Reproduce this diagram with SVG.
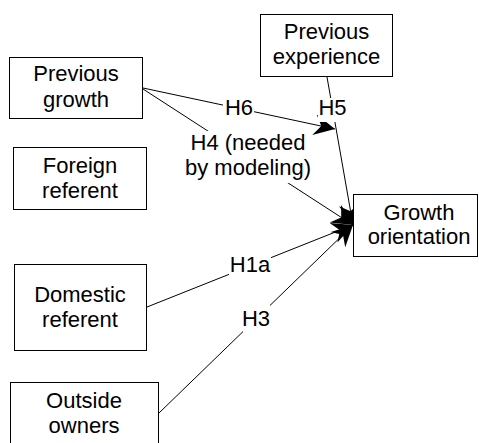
<svg xmlns="http://www.w3.org/2000/svg" width="479" height="443" viewBox="0 0 479 443">
  <style>
    .box { fill: #ffffff; stroke: #000000; stroke-width: 1; }
    .txt { font-family: "Liberation Sans", Arial, sans-serif; font-size: 22px; fill: #000000; text-anchor: middle; }
    .edge { stroke: #000000; stroke-width: 1; fill: none; marker-end: url(#arrow); }
    .lbl-bg { fill: #ffffff; stroke: none; }
  </style>
  <defs>
    <marker id="arrow" markerUnits="userSpaceOnUse" markerWidth="24" markerHeight="24" refX="21" refY="10.5" orient="auto">
      <path d="M0,0 L21,10.5 L0,21 L7,10.5 Z" fill="#000000"/>
    </marker>
  </defs>

  <rect width="479" height="443" fill="#ffffff"/>

  <!-- connectors with their hypothesis labels -->
  <g id="connectors">
    <line class="edge" x1="143" y1="88" x2="335" y2="129"/>
    <line class="edge" x1="143" y1="89" x2="353" y2="225"/>
    <line class="edge" x1="327" y1="77" x2="353" y2="225"/>
    <line class="edge" x1="147" y1="307" x2="353" y2="225"/>
    <line class="edge" x1="159" y1="413" x2="353" y2="225"/>

    <rect class="lbl-bg" x="223" y="97" width="31" height="22"/>
    <text class="txt" x="239" y="115">H6</text>

    <rect class="lbl-bg" x="318" y="98" width="30" height="24"/>
    <text class="txt" x="332.5" y="115">H5</text>

    <rect class="lbl-bg" x="186" y="131" width="124" height="52"/>
    <text class="txt" x="248" y="150">H4 (needed</text>
    <text class="txt" x="248" y="175">by modeling)</text>

    <rect class="lbl-bg" x="229" y="256" width="42" height="21"/>
    <text class="txt" x="250" y="272">H1a</text>

    <rect class="lbl-bg" x="243" y="305" width="27" height="27"/>
    <text class="txt" x="256" y="326">H3</text>
  </g>

  <g id="previous-experience">
    <rect class="box" x="260.5" y="14.5" width="132" height="62"/>
    <text class="txt" x="326.5" y="39">Previous</text>
    <text class="txt" x="326.5" y="64">experience</text>
  </g>

  <g id="previous-growth">
    <rect class="box" x="9.5" y="57.5" width="133" height="61"/>
    <text class="txt" x="76" y="81">Previous</text>
    <text class="txt" x="76" y="107">growth</text>
  </g>

  <g id="foreign-referent">
    <rect class="box" x="13.5" y="147.5" width="133" height="62"/>
    <text class="txt" x="80" y="173">Foreign</text>
    <text class="txt" x="80" y="198">referent</text>
  </g>

  <g id="growth-orientation">
    <rect class="box" x="353.5" y="194.5" width="124" height="62"/>
    <text class="txt" x="419" y="219.5">Growth</text>
    <text class="txt" x="419" y="244">orientation</text>
  </g>

  <g id="domestic-referent">
    <rect class="box" x="14.5" y="264.5" width="132" height="86"/>
    <text class="txt" x="80" y="302">Domestic</text>
    <text class="txt" x="80" y="327">referent</text>
  </g>

  <g id="outside-owners">
    <rect class="box" x="10.5" y="382.5" width="148" height="70"/>
    <text class="txt" x="84" y="408">Outside</text>
    <text class="txt" x="84" y="433">owners</text>
  </g>
</svg>
